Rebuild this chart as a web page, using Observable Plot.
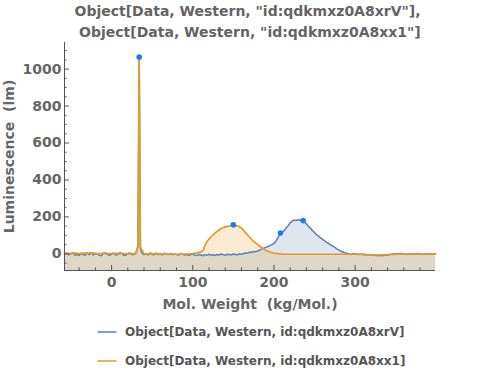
<!DOCTYPE html>
<html><head><meta charset="utf-8">
<script src="https://cdn.jsdelivr.net/npm/d3@7"></script>
<script src="https://cdn.jsdelivr.net/npm/@observablehq/plot@0.6"></script>
<style>
body{margin:0;background:#fff;font-family:"DejaVu Sans",sans-serif;}
#title{width:500px;height:40px;padding-top:1px;box-sizing:border-box;text-align:center;font-weight:bold;font-size:14px;line-height:21px;color:#646464;white-space:pre;padding-right:5px;}
#chart{height:277px;}
#legend{width:500px;}
.row{display:flex;align-items:center;height:29px;padding-left:97px;font-weight:bold;font-size:12px;color:#555;white-space:pre;}
.row svg{margin-right:8px;}
</style></head>
<body>
<div id="title"></div>
<div id="chart"></div>
<div id="legend"></div>
<script>
const titleLines = ['Object[Data, Western, "id:qdkmxz0A8xrV"],', ' Object[Data, Western, "id:qdkmxz0A8xx1"]'];
const seriesNames = ["Object[Data, Western, id:qdkmxz0A8xrV]", "Object[Data, Western, id:qdkmxz0A8xx1]"];
const seriesColors = ["#5e81b5", "#e19c24"];
const xLabel = "Mol. Weight\u00a0 (kg/Mol.)";
const yLabel = "Luminescence\u00a0 (lm)";

const xDomain = [-58, 399];
const yDomain = [-90, 1144];
const xTickLabels = [0, 100, 200, 300];
const xMinorTicks = [-40,-20,20,40,60,80,120,140,160,180,220,240,260,280,320,340,360,380];
const yTickLabels = [0, 200, 400, 600, 800, 1000];
const yMinorTicks = [-50,50,100,150,250,300,350,450,500,550,650,700,750,850,900,950,1050,1100];

const blueX = [-58,-55,-52.5,-50,-47.5,-45,-42.5,-40,-37.5,-35,-32.5,-30,-27.5,-25,-22.5,-20,-17.5,-15,-12.5,-10,-7.5,-5,-2.5,0,2.5,5,7.5,10,12.5,15,17.5,20,22.5,25,27.5,30,
  32.5,34,35.5,
  37.5,40,42.5,45,47.5,50,52.5,55,57.5,60,62.5,65,67.5,70,72.5,75,77.5,80,82.5,85,87.5,90,92.5,95,97.5,100,102.5,105,107.5,110,112.5,115,117.5,120,122.5,125,127.5,130,132.5,135,137.5,140,142.5,145,147.5,150,152.5,155,157.5,160,
  162.5,165,167.5,170,172.5,175,177.5,180,182.5,185,187.5,190,192.5,195,197.5,200,202.5,205,207.5,210,212.5,215,217.5,220,222.5,225,227.5,230,232.5,235,237.5,240,242.5,245,247.5,250,252.5,255,257.5,260,262.5,265,267.5,270,272.5,275,277.5,280,282.5,285,287.5,290,
  292.5,295,297.5,300,302.5,305,307.5,310,312.5,315,317.5,320,322.5,325,327.5,330,332.5,335,337.5,340,342.5,345,347.5,350,352.5,355,357.5,360,362.5,365,367.5,370,372.5,375,377.5,380,382.5,385,387.5,390,392.5,395,397.5,399];
const blueY = [-3,4,-6,2,5,-8,-2,-9,3,-4,-7,6,-5,7,-6,1,2,-8,-10,4,6,-3,-8,-1,4,-6,-4,5,3,-9,-7,2,5,-4,-3,6,
  40,1062,30,
  3,-4,2,-6,5,-2,-5,4,-3,1,-6,3,-1,-4,2,-5,0,-3,-7,1,-2,-6,-3,-8,-4,-1,-7,-9,-3,-6,-10,-4,-8,-2,-7,-5,-9,-3,-6,-1,-5,-8,-2,-4,-6,-1,-3,-5,0,-2,
  2,5,3,10,8,13,11,16,20,27,30,36,39,45,50,56,70,88,108,118,125,140,152,168,178,183,181,185,182,180,172,162,150,138,126,115,104,96,86,78,70,62,56,48,42,35,27,21,14,10,6,3,
  0,-3,2,-2,1,-4,-1,-5,-3,-6,-4,-8,-6,-9,-7,-10,-8,-9,-6,-7,-4,-2,1,-3,2,-1,3,-2,0,-4,2,-3,1,-1,3,-2,0,-3,2,-1,1,-2,0,0];

const orangeX = [-58,-55,-50,-45,-40,-35,-30,-25,-20,-15,-10,-5,0,5,10,15,20,25,30,32.5,34,35.5,40,45,50,55,60,65,70,75,80,85,90,95,100,105,110,113,115,118,122,128,135,140,145,150,155,160,165,170,175,180,185,190,195,200,205,210,220,240,260,280,300,310,320,330,340,350,360,380,399];
const orangeY = [2,3,1,4,2,4,3,5,3,2,3,1,2,3,1,2,0,2,1,45,1065,35,1,0,1,0,-1,0,-2,-1,-2,-1,-1,0,2,5,10,20,45,70,90,115,137,146,151,155,152,140,115,90,68,50,33,20,10,4,1,-1,-2,-2,-2,-2,-2,-3,-5,-6,-4,-2,-1,-1,-1];

const peakX = [34, 150, 208, 236];
const peakY = [1065, 158, 113, 180];

const blue = blueX.map((x, i) => ({x, y: blueY[i]}));
const orange = orangeX.map((x, i) => ({x, y: orangeY[i]}));
const peaks = peakX.map((x, i) => ({x, y: peakY[i]}));

document.getElementById("title").textContent = titleLines.join("\n");

const W = 500, H = 277, mL = 64, mR = 65, mT = 2, mB = 47;
const plotW = W - mL - mR, plotH = H - mT - mB;
const axisColor = "#555";
const textColor = "#666";

const chart = Plot.plot({
  width: W, height: H,
  marginLeft: mL, marginRight: mR, marginTop: mT, marginBottom: mB,
  style: {fontFamily: "DejaVu Sans", background: "#fff", overflow: "visible"},
  x: {domain: xDomain, axis: null},
  y: {domain: yDomain, axis: null},
  marks: [
    Plot.areaY(blue, {x: "x", y1: yDomain[0], y2: "y", fill: seriesColors[0], fillOpacity: 0.2}),
    Plot.areaY(orange, {x: "x", y1: yDomain[0], y2: "y", fill: seriesColors[1], fillOpacity: 0.2}),
    Plot.lineY(blue, {x: "x", y: "y", stroke: seriesColors[0], strokeWidth: 1.5}),
    Plot.lineY(orange, {x: "x", y: "y", stroke: seriesColors[1], strokeWidth: 1.7}),
    Plot.dot(peaks, {x: "x", y: "y", r: 2.8, fill: "#1a7cf5", stroke: "none"}),
    Plot.ruleX([xDomain[0]], {stroke: axisColor, strokeWidth: 1}),
    Plot.ruleY([yDomain[0]], {stroke: axisColor, strokeWidth: 1}),
    Plot.tickX(xTickLabels, {x: d => d, stroke: axisColor, insetTop: plotH - 5}),
    Plot.tickX(xMinorTicks, {x: d => d, stroke: axisColor, insetTop: plotH - 2.5}),
    Plot.tickY(yTickLabels, {y: d => d, stroke: axisColor, insetRight: plotW - 5}),
    Plot.tickY(yMinorTicks, {y: d => d, stroke: axisColor, insetRight: plotW - 2.5}),
    Plot.text(xTickLabels, {x: d => d, frameAnchor: "bottom", dy: 12, text: d => String(d), fontSize: 14, fontWeight: "bold", fill: textColor, lineAnchor: "middle", textAnchor: "middle"}),
    Plot.text(yTickLabels, {y: d => d, frameAnchor: "left", dx: -3, textAnchor: "end", text: d => String(d), fontSize: 14, fontWeight: "bold", fill: textColor, lineAnchor: "middle"}),
    Plot.text([xLabel], {frameAnchor: "bottom", dy: 34, text: d => d, fontSize: 14, fontWeight: "bold", fill: textColor, lineAnchor: "middle", textAnchor: "middle"}),
    Plot.text([yLabel], {frameAnchor: "left", dx: -55, rotate: -90, text: d => d, fontSize: 14, fontWeight: "bold", fill: textColor, lineAnchor: "middle", textAnchor: "middle"})
  ]
});
document.getElementById("chart").appendChild(chart);

const legend = document.getElementById("legend");
seriesNames.forEach((name, i) => {
  const row = document.createElement("div");
  row.className = "row";
  row.innerHTML = `<svg width="20" height="4"><line x1="0.5" y1="2" x2="19.5" y2="2" stroke="${seriesColors[i]}" stroke-width="1.5"/></svg><span></span>`;
  row.querySelector("span").textContent = name;
  legend.appendChild(row);
});
</script>
</body></html>
